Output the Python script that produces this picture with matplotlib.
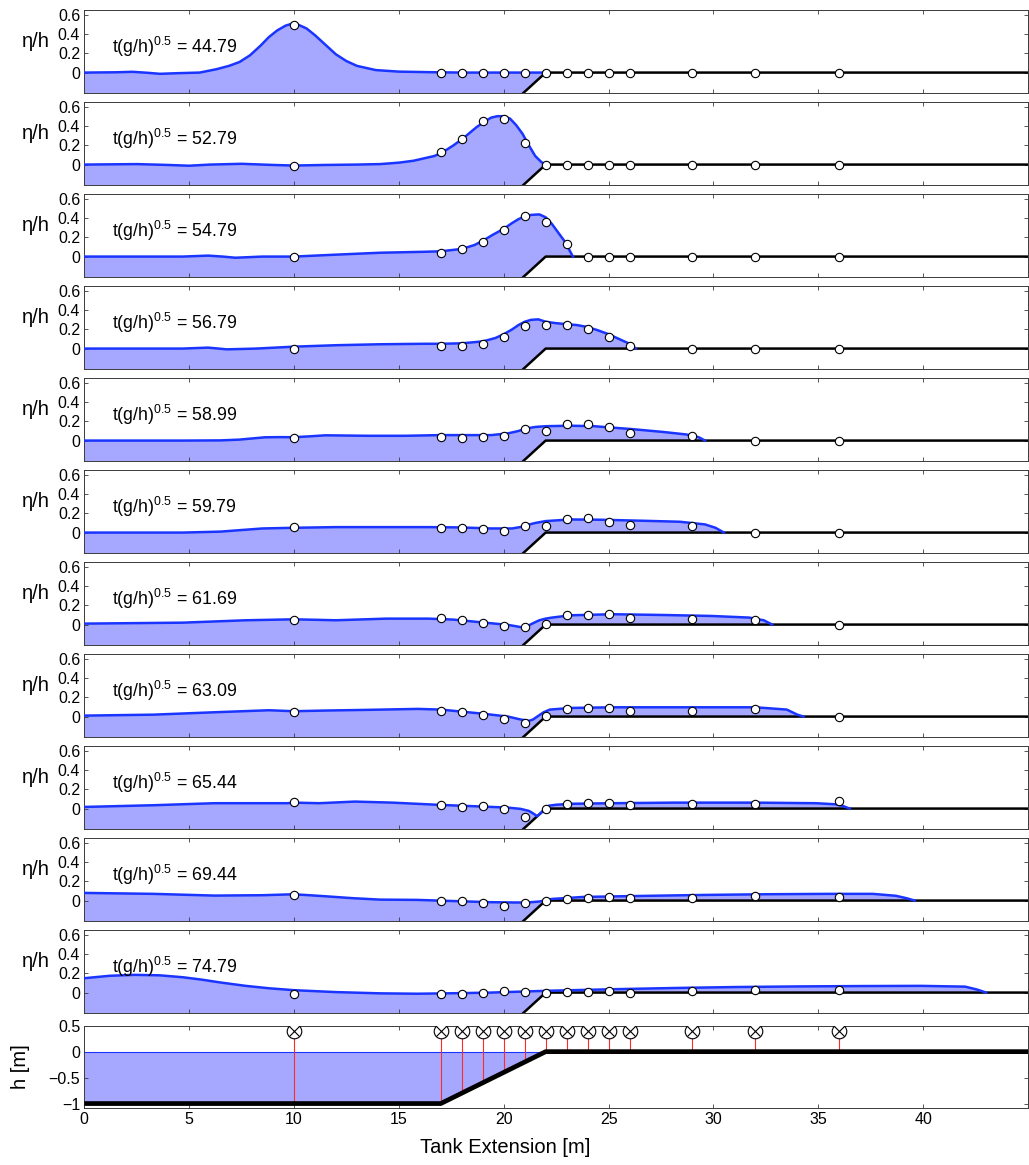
import numpy as np
import matplotlib
matplotlib.use("Agg")
import matplotlib.pyplot as plt

plt.rcParams["font.family"] = ["Liberation Sans", "DejaVu Sans"]
plt.rcParams["mathtext.default"] = "regular"

# non-dimensional times of the snapshots
times = ["44.79", "52.79", "54.79", "56.79", "58.99", "59.79",
         "61.69", "63.09", "65.44", "69.44", "74.79"]

# flume geometry [m]: flat bed, 1:5 slope, dry shelf
bed_x = [0, 17, 22, 45]
bed_z = [-1, -1, 0, 0]

# wave gauge positions [m]
gauge_x = [10, 17, 18, 19, 20, 21, 22, 23, 24, 25, 26, 29, 32, 36]

# computed free surface eta/h (x in m), one profile per snapshot
surf_x_1 = [0, 1.5, 2.3, 3.0, 3.6, 4.5, 5.5, 6.3, 6.9, 7.4, 7.9, 8.4, 8.8, 9.2, 9.6, 9.9,
            10.2, 10.6, 11.0, 11.5, 12.0, 12.5, 13.0, 13.9, 15.0, 16.5, 18.0, 22.0]
surf_eta_1 = [0, 0.003, 0.008, -0.002, -0.013, -0.006, 0.0, 0.035, 0.07, 0.11, 0.18, 0.28, 0.37,
              0.44, 0.49, 0.51, 0.5, 0.46, 0.39, 0.29, 0.19, 0.12, 0.07, 0.026, 0.01, 0.004, 0.0, 0.0]

surf_x_2 = [0, 2.5, 4.0, 5.0, 6.0, 7.5, 9.0, 10.0, 11.5, 13.0, 14.1, 15.0, 15.7, 16.3, 16.7,
            17.1, 17.6, 18.1, 18.7, 19.1, 19.4, 19.7, 20.0, 20.3, 20.6, 20.9, 21.2, 21.5, 21.8, 22.0]
surf_eta_2 = [0, 0.005, -0.004, -0.012, 0.0, 0.008, -0.004, -0.01, -0.004, 0.0, 0.005, 0.02, 0.04,
              0.07, 0.09, 0.13, 0.2, 0.28, 0.39, 0.45, 0.49, 0.505, 0.505, 0.48, 0.41, 0.32, 0.2,
              0.09, 0.025, 0.0]

surf_x_3 = [0, 3.0, 4.7, 5.9, 6.6, 7.2, 8.5, 10.0, 12.0, 14.1, 16.2, 17.0, 18.0, 18.6, 19.0,
            19.5, 20.0, 20.4, 20.7, 21.0, 21.3, 21.7, 22.0, 22.3, 22.6, 22.97, 23.15, 23.3]
surf_eta_3 = [0, 0.0, 0.0, 0.01, 0.0, -0.012, 0.0, 0.0, 0.02, 0.04, 0.05, 0.055, 0.08, 0.12,
              0.165, 0.23, 0.29, 0.35, 0.39, 0.42, 0.435, 0.44, 0.41, 0.34, 0.25, 0.14, 0.06, 0.0]

surf_x_4 = [0, 4.7, 5.9, 6.8, 8.2, 10.0, 12.0, 14.1, 16.2, 17.0, 18.0, 19.0, 19.6, 20.0, 20.4,
            20.7, 21.0, 21.3, 21.65, 22.0, 22.5, 23.0, 23.5, 24.0, 24.5, 25.0, 25.5, 26.0, 26.3]
surf_eta_4 = [0, 0, 0.01, -0.008, 0, 0.02, 0.035, 0.045, 0.05, 0.05, 0.055, 0.075, 0.11, 0.15,
              0.2, 0.245, 0.28, 0.3, 0.305, 0.28, 0.265, 0.255, 0.245, 0.225, 0.19, 0.15, 0.1,
              0.05, 0.0]

surf_x_5 = [0, 4.7, 6.5, 7.4, 8.0, 8.6, 9.3, 10.0, 10.8, 11.5, 13.5, 15.3, 17.0, 19.4, 20.2, 20.7,
            21.1, 21.5, 22.0, 23.2, 24.3, 25.2, 26.1, 27.6, 28.7, 29.3, 29.6]
surf_eta_5 = [0, 0, 0.002, 0.01, 0.022, 0.034, 0.036, 0.035, 0.045, 0.055, 0.05, 0.05, 0.057,
              0.057, 0.075, 0.1, 0.127, 0.142, 0.15, 0.155, 0.15, 0.135, 0.12, 0.09, 0.064,
              0.035, 0.0]

surf_x_6 = [0, 4.7, 6.5, 7.4, 8.5, 10.0, 12.0, 14.1, 16.4, 17.9, 19.4, 20.4, 20.8, 21.1, 21.5,
            22.0, 23.2, 24.6, 26.7, 28.4, 29.6, 30.1, 30.5]
surf_eta_6 = [0, 0, 0.01, 0.025, 0.043, 0.05, 0.057, 0.057, 0.057, 0.054, 0.043, 0.043, 0.058,
              0.078, 0.1, 0.12, 0.137, 0.134, 0.123, 0.113, 0.085, 0.05, 0.0]

surf_x_7 = [0, 4.7, 7.7, 10.0, 12.0, 14.4, 16.4, 17.6, 19.1, 20.2, 20.6, 20.9, 21.1, 21.27,
            21.5, 21.7, 22.0, 22.3, 23.2, 25.2, 27.6, 29.9, 31.7, 32.4, 32.8]
surf_eta_7 = [0.01, 0.02, 0.045, 0.055, 0.045, 0.062, 0.062, 0.052, 0.02, -0.003, -0.018, -0.03,
              -0.025, 0.0, 0.025, 0.045, 0.062, 0.073, 0.097, 0.108, 0.1, 0.09, 0.073, 0.045, 0.0]

surf_x_8 = [0, 3.3, 6.2, 8.8, 10.0, 11.5, 13.5, 15.9, 17.0, 19.1, 20.2, 20.8, 21.2, 21.4, 21.6,
            21.9, 22.2, 23.2, 25.2, 28.2, 32.0, 33.5, 34.0, 34.3]
surf_eta_8 = [0.01, 0.02, 0.045, 0.066, 0.056, 0.063, 0.07, 0.08, 0.073, 0.028, 0.0, -0.03,
              -0.045, -0.03, 0.0, 0.045, 0.073, 0.09, 0.097, 0.097, 0.097, 0.073, 0.02, 0.0]

surf_x_9 = [0, 3.3, 6.2, 9.7, 10.0, 11.2, 12.9, 14.7, 17.0, 19.1, 20.2, 20.8, 21.2, 21.4, 21.6,
            21.8, 22.0, 22.15, 22.5, 23.2, 25.2, 28.1, 32.0, 34.9, 35.8, 36.2, 36.5]
surf_eta_9 = [0.017, 0.035, 0.056, 0.056, 0.062, 0.056, 0.073, 0.062, 0.038, 0.02, 0.01, -0.003,
              -0.024, -0.05, -0.08, -0.04, 0.005, 0.03, 0.04, 0.05, 0.056, 0.062, 0.062, 0.056,
              0.045, 0.025, 0.0]

surf_x_10 = [0, 3.3, 6.2, 8.5, 10.0, 11.5, 12.8, 14.1, 15.9, 17.9, 19.4, 20.5, 21.1, 21.7, 22.3,
             23.8, 26.7, 29.6, 32.5, 35.5, 37.6, 38.7, 39.2, 39.6]
surf_eta_10 = [0.08, 0.07, 0.052, 0.056, 0.066, 0.045, 0.025, 0.01, 0.007, -0.007, -0.017, -0.02,
               -0.02, -0.01, 0.017, 0.038, 0.049, 0.059, 0.066, 0.07, 0.07, 0.05, 0.025, 0.0]

surf_x_11 = [0, 1.2, 2.4, 3.6, 4.7, 5.6, 6.5, 7.7, 8.8, 10.0, 12.0, 14.1, 15.9, 17.9, 19.4, 21.1,
             22.3, 25.2, 28.2, 31.1, 34.0, 37.0, 39.9, 42.0, 42.6, 43.0]
surf_eta_11 = [0.15, 0.175, 0.185, 0.18, 0.16, 0.135, 0.105, 0.07, 0.045, 0.025, 0.005, -0.008,
               -0.012, -0.006, 0.0, 0.012, 0.02, 0.035, 0.048, 0.058, 0.064, 0.068, 0.07, 0.062,
               0.03, 0.0]

# measured eta/h at the gauges
gauge_eta_1 = [0.5, 0, 0, 0, 0, 0, 0, 0, 0, 0, 0, 0, 0, 0]
gauge_eta_2 = [-0.012, 0.13, 0.27, 0.45, 0.48, 0.22, 0.0, 0, 0, 0, 0, 0, 0, 0]
gauge_eta_3 = [0.0, 0.04, 0.075, 0.155, 0.28, 0.42, 0.36, 0.13, 0, 0, 0, 0, 0, 0]
gauge_eta_4 = [0.0, 0.03, 0.03, 0.05, 0.12, 0.24, 0.245, 0.245, 0.2, 0.12, 0.03, 0, 0, 0]
gauge_eta_5 = [0.03, 0.036, 0.03, 0.036, 0.047, 0.116, 0.1, 0.17, 0.17, 0.137, 0.08, 0.047, 0, 0]
gauge_eta_6 = [0.054, 0.043, 0.043, 0.033, 0.02, 0.068, 0.064, 0.14, 0.148, 0.113, 0.078, 0.068, 0, 0]
gauge_eta_7 = [0.052, 0.066, 0.045, 0.017, -0.017, -0.024, 0.01, 0.097, 0.1, 0.108, 0.066, 0.059, 0.045, 0]
gauge_eta_8 = [0.049, 0.063, 0.045, 0.014, -0.024, -0.063, 0.007, 0.08, 0.087, 0.09, 0.056, 0.063, 0.08, 0]
gauge_eta_9 = [0.073, 0.038, 0.021, 0.028, -0.007, -0.09, 0.0, 0.052, 0.059, 0.063, 0.042, 0.052, 0.052, 0.08]
gauge_eta_10 = [0.056, -0.007, -0.007, -0.024, -0.056, -0.03, 0.0, 0.02, 0.03, 0.038, 0.024, 0.024, 0.049, 0.035]
gauge_eta_11 = [-0.01, -0.02, -0.015, -0.003, 0.017, 0.01, 0.0, 0.01, 0.01, 0.02, 0.0, 0.02, 0.03, 0.028]

surf_x = [surf_x_1, surf_x_2, surf_x_3, surf_x_4, surf_x_5, surf_x_6,
          surf_x_7, surf_x_8, surf_x_9, surf_x_10, surf_x_11]
surf_eta = [surf_eta_1, surf_eta_2, surf_eta_3, surf_eta_4, surf_eta_5, surf_eta_6,
            surf_eta_7, surf_eta_8, surf_eta_9, surf_eta_10, surf_eta_11]
gauge_eta = [gauge_eta_1, gauge_eta_2, gauge_eta_3, gauge_eta_4, gauge_eta_5, gauge_eta_6,
             gauge_eta_7, gauge_eta_8, gauge_eta_9, gauge_eta_10, gauge_eta_11]

water = "#a6a8ff"
line_blue = "#1a35ff"
spine_col = "#3a3a3a"

W, H = 1029, 1165
fig = plt.figure(figsize=(W / 100, H / 100), dpi=100)


def add_panel(top_px, height_px):
    left, right = 84.3, 1028.0
    return fig.add_axes([left / W, 1 - (top_px + height_px) / H,
                         (right - left) / W, height_px / H])


def style_axes(ax):
    for s in ax.spines.values():
        s.set_color(spine_col)
        s.set_linewidth(0.7)
    ax.tick_params(direction="in", length=3, width=0.6, top=True, right=True,
                   labelsize=11.5, colors="black", pad=3)
    ax.tick_params(axis="both", which="both", color=spine_col)
    ax.set_xlim(0, 45)
    ax.set_xticks(np.arange(0, 45, 5))


def wet_polygon(xs, es):
    # free surface on top, bed back from the shoreline underneath
    shore = xs[-1]
    bx = [b for b in bed_x if b < shore][::-1]
    bz = list(np.interp(bx, bed_x, bed_z))
    return list(xs) + bx, list(es) + bz


for i in range(len(times)):
    ax = add_panel(10.3 + 92.0 * i, 82.4)
    style_axes(ax)
    ax.set_ylim(-0.21, 0.65)
    ax.set_yticks([0, 0.2, 0.4, 0.6])
    ax.set_yticklabels(["0", "0.2", "0.4", "0.6"])
    ax.set_xticklabels([])

    px, pz = wet_polygon(surf_x[i], surf_eta[i])
    ax.fill(px, pz, color=water, lw=0, zorder=1)
    ax.plot(bed_x, bed_z, color="black", lw=1.8, zorder=2, solid_capstyle="butt")
    ax.plot(surf_x[i], surf_eta[i], color=line_blue, lw=1.8, zorder=3,
            solid_joinstyle="round")
    ax.plot(gauge_x, gauge_eta[i], ls="none", marker="o", ms=6, mfc="white",
            mec="black", mew=0.8, zorder=4)

    ax.text(1.3, 0.2, r"t(g/h)$^{0.5}$ = " + times[i], fontsize=12.8,
            ha="left", va="baseline", zorder=5)
    ax.text(-0.036, 0.62, "η/h", transform=ax.transAxes, fontsize=14.5,
            ha="right", va="center")

# flume layout with gauge locations
ax = add_panel(1025.7, 82.0)
style_axes(ax)
ax.set_ylim(-1.08, 0.5)
ax.set_yticks([-1, -0.5, 0, 0.5])
ax.set_yticklabels(["\u22121", "\u22120.5", "0", "0.5"])
ax.set_xticklabels([str(v) for v in range(0, 45, 5)])

still_x = [0, 17, 22]
still_bed = [-1, -1, 0]
ax.fill_between(still_x, still_bed, 0, color=water, lw=0, zorder=1)
ax.plot([0, 22], [0, 0], color=line_blue, lw=0.8, zorder=2)
gauge_bed = np.interp(gauge_x, bed_x, bed_z)
marker_y = 0.4
ax.vlines(gauge_x, gauge_bed, marker_y, color="#ff2a2a", lw=0.8, zorder=2)
ax.plot(bed_x, bed_z, color="black", lw=3.4, zorder=3, solid_capstyle="butt")
ax.plot(gauge_x, [marker_y] * len(gauge_x), ls="none", marker="o", ms=10.5,
        mfc="white", mec="black", mew=0.8, zorder=4)
ax.plot(gauge_x, [marker_y] * len(gauge_x), ls="none", marker="x", ms=6.5,
        mec="black", mew=0.8, zorder=5)

ax.set_xlabel("Tank Extension [m]", fontsize=14.5)
ax.xaxis.set_label_coords(0.446, -0.49)
ax.xaxis.label.set_va("center")
ax.set_ylabel("h [m]", fontsize=14.5)
ax.yaxis.set_label_coords(-0.058, 0.5)

fig.savefig("out.png", dpi=100)
